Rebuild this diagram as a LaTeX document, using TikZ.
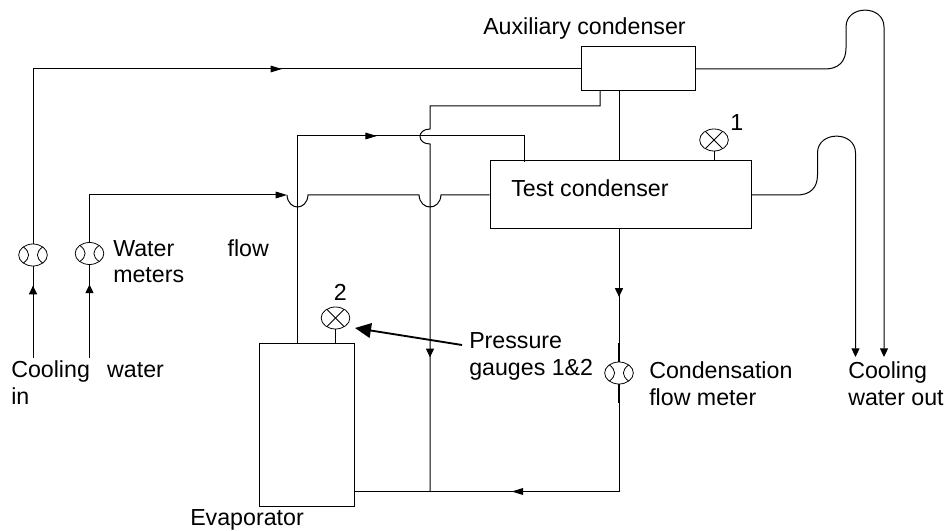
\documentclass[tikz,border=0pt]{standalone}
\usepackage{fontspec}
\setmainfont{Liberation Sans}
\usetikzlibrary{arrows.meta}
\usetikzlibrary{shapes.geometric}
\usetikzlibrary{decorations.markings}
\tikzset{
  pipe/.style={line width=0.75pt, draw=black},
  tip at/.style={
    decoration={
      markings,
      mark=at position #1 with {\arrow{Triangle[length=8.5pt,width=5pt]}},
    },
    postaction={decorate},
  },
  short tip at/.style={
    decoration={
      markings,
      mark=at position #1 with {\arrow{Triangle[length=6.5pt,width=6pt]}},
    },
    postaction={decorate},
  },
  vessel/.style={draw, line width=0.75pt, rectangle, inner sep=0pt, fill=white},
  dial/.style={draw, line width=0.6pt, ellipse, inner sep=0pt, minimum width=21.5pt, minimum height=16.5pt},
  flow meter/.style={dial, path picture={
      \draw[line width=0.6pt]
        (path picture bounding box.north west) ++(3.2pt,-2pt) .. controls +(5.7pt,-4pt) and +(5.7pt,4pt) .. +(0pt,-12.5pt);
      \draw[line width=0.6pt]
        (path picture bounding box.north east) ++(-3.2pt,-2pt) .. controls +(-5.7pt,-4pt) and +(-5.7pt,4pt) .. +(0pt,-12.5pt);
    }},
  gauge/.style={dial, path picture={
      \draw[line width=0.6pt] (path picture bounding box.center) ++(-10pt,-10pt) -- +(20pt,20pt);
      \draw[line width=0.6pt] (path picture bounding box.center) ++(-10pt,10pt) -- +(20pt,-20pt);
    }},
  caption/.style={inner sep=0pt, align=left, anchor=base west, font=\fontsize{17.4}{20.25}\selectfont},
}
\begin{document}
\begin{tikzpicture}[x=0.75pt, y=-0.75pt]
  \useasboundingbox (0,0) rectangle (947,531);

  % Define nodes
  \node[vessel, minimum width=85.5pt, minimum height=33pt] (aux) at (638,69) {};
  \node[vessel, minimum width=195.75pt, minimum height=51pt] (test) at (620.5,195) {};
  \node[vessel, minimum width=71.6pt, minimum height=122.25pt] (evap) at (306.75,424.5) {};

  \node[flow meter] (meterA) at (33,255) {};
  \node[flow meter] (meterB) at (89.5,253.5) {};
  \node[flow meter] (meterC) at (619,373) {};
  \node[gauge] (gaugeA) at (714,140) {};
  \node[gauge] (gaugeB) at (335.5,318) {};

  % Free ends and corners
  \coordinate (coolA) at (33,358);
  \coordinate (coolB) at (89.5,358);
  \coordinate (outA) at (855.5,357);
  \coordinate (outB) at (884,357);
  \coordinate (evapOut) at (297.7,343);
  \coordinate (testIn) at (524.7,162);
  \coordinate (auxOut) at (600,91);
  \coordinate (teeBottom) at (430,491.5);
  \coordinate (bottomR) at (619,491.5);
  \coordinate (bottomL) at (354.5,491.5);
  \coordinate (thickTop) at (619,343);
  \coordinate (thickEnd) at (619,403);
  \coordinate (hopA) at (287,195);
  \coordinate (pointTail) at (462,345);
  \coordinate (pointTip) at (355,328);

  % Labels
  \node[caption] (auxLabel) at (483,35) {Auxiliary condenser};
  \node[caption] (testLabel) at (511,197) {Test condenser};
  \node[caption] (meterLabel) at (113,283) {Water\hspace{40pt}flow\\meters};
  \node[caption] (coolLabel) at (11,404) {Cooling\hspace{13pt}water\\in};
  \node[caption] (gaugesLabel) at (469,375) {Pressure\\gauges 1\&2};
  \node[caption] (condLabel) at (649,405) {Condensation\\flow meter};
  \node[caption] (outLabel) at (848,405) {Cooling\\water out};
  \node[caption] (evapLabel) at (190,525.5) {Evaporator};
  \node[caption] (oneLabel) at (730,131) {1};
  \node[caption] (twoLabel) at (333.5,300.5) {2};

  % Connect nodes
  \draw[pipe, short tip at=0.79] (coolA) -- (meterA.south);
  \draw[pipe, short tip at=0.79] (coolB) -- (meterB.south);
  \draw[pipe, tip at=0.5865] (meterA.north) |- (aux.west);
  \draw[pipe, -{Triangle[length=8.5pt,width=5pt]}] (meterB.north) |- (hopA);
  \draw[pipe] (hopA) .. controls (288,211) and (307,211) .. (308,195) -- (419,195)
    .. controls (420,211) and (440,211) .. (441,195) -- (test.west);
  \draw[pipe, tip at=0.622] (evapOut) |- (testIn |- 0,136) -- (testIn);
  \draw[pipe, short tip at=0.77] (auxOut) |- (430,106) -- (430,129)
    .. controls (416.7,129) and (416.7,144) .. (430,144) -- (teeBottom);
  \draw[pipe] (aux.south -| thickTop) -- (test.north -| thickTop);
  \draw[pipe, short tip at=0.51] (test.south -| thickTop) -- (meterC.north);
  \draw[line width=1.1pt] (thickTop) -- (meterC.north);
  \draw[line width=1.1pt] (meterC.south) -- (thickEnd);
  \draw[pipe, tip at=0.577] (meterC.south) -- (bottomR) -- (bottomL);
  \draw[pipe] (gaugeA.south) -- (gaugeA.south |- test.north);
  \draw[pipe] (gaugeB.south) -- (gaugeB.south |- evap.north);
  \draw[pipe, -{Triangle[length=6.5pt,width=6pt]}] (aux.east) -- (825,69)
    .. controls (838,69) and (846,62) .. (846,48) -- (846,27)
    .. controls (846,4.5) and (884,4.5) .. (884,27) -- (outB);
  \draw[pipe, -{Triangle[length=6.5pt,width=6pt]}] (test.east) -- (797,195)
    .. controls (810,195) and (817.5,188) .. (817.5,175) -- (817.5,153)
    .. controls (817.5,130.5) and (855.5,130.5) .. (855.5,153) -- (outA);
  \draw[line width=1.4pt, -{Triangle[length=12pt,width=11pt]}] (pointTail) -- (pointTip);

\end{tikzpicture}
\end{document}
